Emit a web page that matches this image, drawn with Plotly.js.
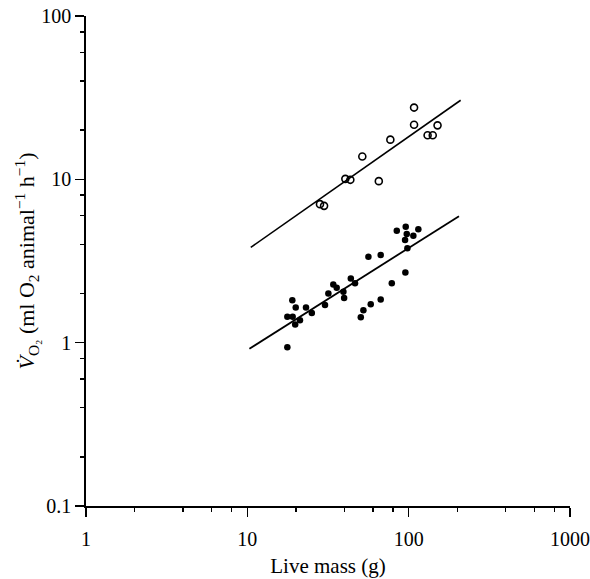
<!DOCTYPE html>
<html>
<head>
<meta charset="utf-8">
<script src="https://cdn.plot.ly/plotly-3.0.1.min.js"></script>
<style>html,body{margin:0;padding:0;background:#fff;}#chart{width:590px;height:579px;}</style>
</head>
<body>
<div id="chart"></div>
<script>
// Open circles (upper group)
const openMass = [28.2, 29.9, 40.5, 43.5, 51.6, 65.3, 77.0, 108, 108, 131, 141, 151];
const openVO2  = [7.05, 6.88, 10.07, 9.93, 13.8, 9.75, 17.5, 27.5, 21.6, 18.6, 18.6, 21.4];

// Filled circles (lower group)
const filledMass = [84.4, 95.9, 114.8, 97.3, 106.9, 95.0, 98.2, 95.4, 56.3, 67.1, 78.6, 67.1,
                    58.2, 52.4, 50.5, 43.8, 46.5, 34.1, 35.8, 39.4, 39.8, 31.8, 30.3, 25.1,
                    23.1, 19.0, 19.95, 17.7, 19.1, 21.2, 19.8, 17.7];
const filledVO2  = [4.84, 5.12, 4.94, 4.62, 4.51, 4.25, 3.78, 2.69, 3.36, 3.44, 2.31, 1.84,
                    1.72, 1.58, 1.43, 2.47, 2.31, 2.27, 2.17, 2.05, 1.88, 2.00, 1.70, 1.52,
                    1.64, 1.82, 1.64, 1.44, 1.44, 1.37, 1.29, 0.936];

// Fitted regression lines (end points)
const fitOpenMass = [10.5, 210];
const fitOpenVO2  = [3.83, 30.5];
const fitFilledMass = [10.3, 205];
const fitFilledVO2  = [0.918, 5.95];

// Axis ticks
const xTickVals = [1, 10, 100, 1000];
const xTickText = ['1', '10', '100', '1000'];
const xMinorVals = [2, 4, 6, 8, 20, 40, 60, 80, 200, 400, 600, 800];
const yTickVals = [0.1, 1, 10, 100];
const yTickText = ['0.1', '1', '10', '100'];
const yMinorVals = [0.2, 0.4, 0.6, 0.8, 2, 4, 6, 8, 20, 40, 60, 80];

const serif = 'Liberation Serif, Times New Roman, serif';

const traces = [
  {x: fitOpenMass, y: fitOpenVO2, mode: 'lines', line: {color: '#000', width: 1.6}, hoverinfo: 'skip'},
  {x: fitFilledMass, y: fitFilledVO2, mode: 'lines', line: {color: '#000', width: 1.8}, hoverinfo: 'skip'},
  {x: openMass, y: openVO2, mode: 'markers',
   marker: {symbol: 'circle-open', size: 7, color: '#000', line: {width: 1.6, color: '#000'}}},
  {x: filledMass, y: filledVO2, mode: 'markers',
   marker: {symbol: 'circle', size: 6.5, color: '#000'}}
];

const axisCommon = {
  type: 'log', showgrid: false, zeroline: false, showline: true,
  linecolor: '#000', linewidth: 1.8, ticks: 'outside', ticklen: 9, tickwidth: 1.6,
  tickcolor: '#000', tickmode: 'array',
  tickfont: {family: serif, size: 20, color: '#000'}
};

const layout = {
  width: 590, height: 579,
  margin: {l: 86, r: 20, t: 16, b: 73},
  paper_bgcolor: '#fff', plot_bgcolor: '#fff',
  showlegend: false,
  xaxis: Object.assign({}, axisCommon, {
    range: [0, 3], tickvals: xTickVals, ticktext: xTickText, ticklabelstandoff: 5,
    minor: {tickmode: 'array', tickvals: xMinorVals, ticks: 'outside', ticklen: 4, tickwidth: 1.4, tickcolor: '#000', showgrid: false},
    title: {text: 'Live mass (g)', font: {family: serif, size: 21, color: '#000'}, standoff: 9}
  }),
  yaxis: Object.assign({}, axisCommon, {
    range: [-1, 2], tickvals: yTickVals, ticktext: yTickText,
    minor: {tickmode: 'array', tickvals: yMinorVals, ticks: 'outside', ticklen: 4, tickwidth: 1.4, tickcolor: '#000', showgrid: false},
    title: {text: '<i>V̇</i><sub>O₂</sub> (ml O<sub>2</sub> animal<sup>−1</sup> h<sup>−1</sup>)',
            font: {family: serif, size: 22, color: '#000'}, standoff: 0}
  })
};

Plotly.newPlot('chart', traces, layout, {displayModeBar: false, staticPlot: true});
</script>
</body>
</html>
